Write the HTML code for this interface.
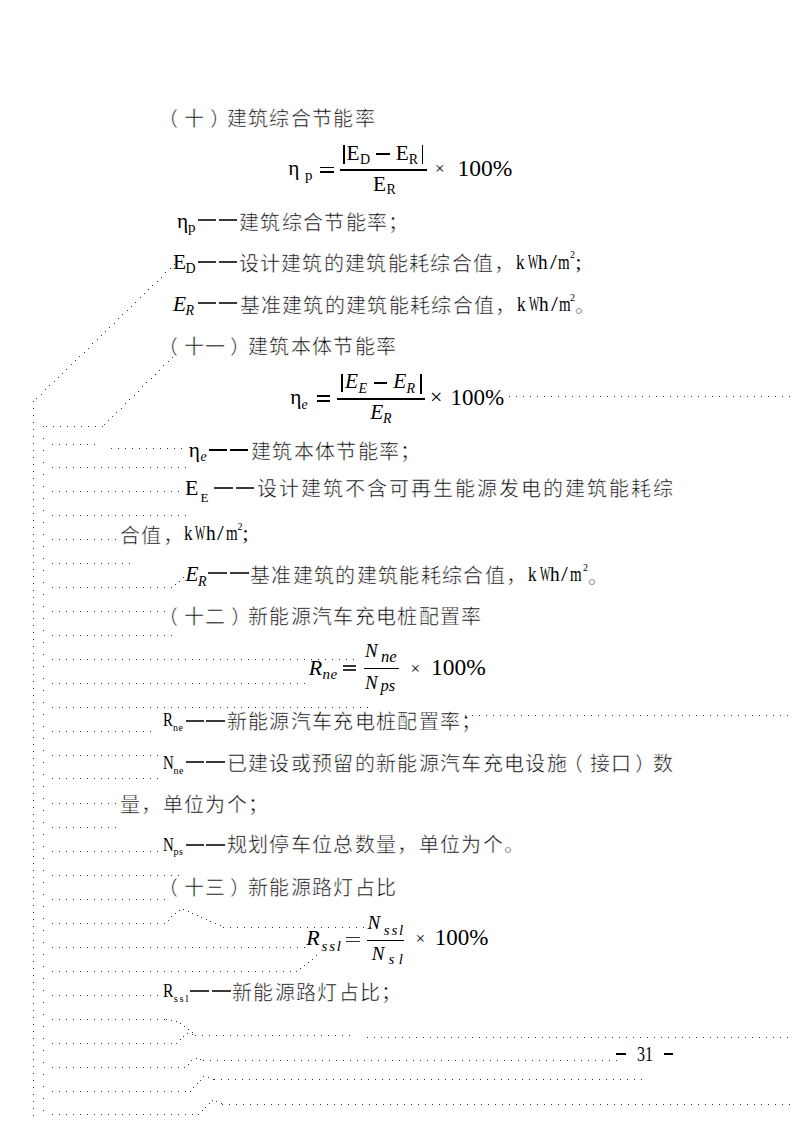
<!DOCTYPE html>
<html lang="zh-CN"><head><meta charset="utf-8"><style>
html,body{margin:0;padding:0;background:#fff;}
body{width:794px;height:1123px;position:relative;overflow:hidden;font-family:'Liberation Serif',serif;color:#000;}
.c,.t{position:absolute;white-space:nowrap;line-height:30px;}
.c{font-size:20px;-webkit-text-stroke:0.5px #fff;}
.r{position:absolute;}
svg{position:absolute;left:0;top:0;}
</style></head><body>
<svg width="794" height="1123" viewBox="0 0 794 1123"><path fill="#333" shape-rendering="crispEdges" d="M33 401h1v1h-1zM33 408h1v1h-1zM33 415h1v1h-1zM33 422h1v1h-1zM33 429h1v1h-1zM33 436h1v1h-1zM33 443h1v1h-1zM33 450h1v1h-1zM33 457h1v1h-1zM33 464h1v1h-1zM33 471h1v1h-1zM33 478h1v1h-1zM33 485h1v1h-1zM33 492h1v1h-1zM33 499h1v1h-1zM33 506h1v1h-1zM33 513h1v1h-1zM33 520h1v1h-1zM33 527h1v1h-1zM33 534h1v1h-1zM33 541h1v1h-1zM33 548h1v1h-1zM33 555h1v1h-1zM33 562h1v1h-1zM33 569h1v1h-1zM33 576h1v1h-1zM33 583h1v1h-1zM33 590h1v1h-1zM33 597h1v1h-1zM33 604h1v1h-1zM33 611h1v1h-1zM33 618h1v1h-1zM33 625h1v1h-1zM33 632h1v1h-1zM33 639h1v1h-1zM33 646h1v1h-1zM33 653h1v1h-1zM33 660h1v1h-1zM33 667h1v1h-1zM33 674h1v1h-1zM33 681h1v1h-1zM33 688h1v1h-1zM33 695h1v1h-1zM33 702h1v1h-1zM33 709h1v1h-1zM33 716h1v1h-1zM33 723h1v1h-1zM33 730h1v1h-1zM33 737h1v1h-1zM33 744h1v1h-1zM33 751h1v1h-1zM33 758h1v1h-1zM33 765h1v1h-1zM33 772h1v1h-1zM33 779h1v1h-1zM33 786h1v1h-1zM33 793h1v1h-1zM33 800h1v1h-1zM33 807h1v1h-1zM33 814h1v1h-1zM33 821h1v1h-1zM33 828h1v1h-1zM33 835h1v1h-1zM33 842h1v1h-1zM33 849h1v1h-1zM33 856h1v1h-1zM33 863h1v1h-1zM33 870h1v1h-1zM33 877h1v1h-1zM33 884h1v1h-1zM33 891h1v1h-1zM33 898h1v1h-1zM33 905h1v1h-1zM33 912h1v1h-1zM33 919h1v1h-1zM33 926h1v1h-1zM33 933h1v1h-1zM33 940h1v1h-1zM33 947h1v1h-1zM33 954h1v1h-1zM33 961h1v1h-1zM33 968h1v1h-1zM33 975h1v1h-1zM33 982h1v1h-1zM33 989h1v1h-1zM33 996h1v1h-1zM33 1003h1v1h-1zM33 1010h1v1h-1zM33 1017h1v1h-1zM33 1024h1v1h-1zM33 1031h1v1h-1zM33 1038h1v1h-1zM33 1045h1v1h-1zM33 1052h1v1h-1zM33 1059h1v1h-1zM33 1066h1v1h-1zM33 1073h1v1h-1zM33 1080h1v1h-1zM33 1087h1v1h-1zM33 1094h1v1h-1zM33 1101h1v1h-1zM33 1108h1v1h-1zM33 1115h1v1h-1zM36 398h1v1h-1zM41 394h1v1h-1zM43 426h1v1h-1zM43 438h1v1h-1zM43 450h1v1h-1zM43 462h1v1h-1zM43 474h1v1h-1zM43 486h1v1h-1zM43 498h1v1h-1zM43 510h1v1h-1zM43 522h1v1h-1zM43 534h1v1h-1zM43 546h1v1h-1zM43 558h1v1h-1zM43 570h1v1h-1zM43 582h1v1h-1zM43 594h1v1h-1zM43 606h1v1h-1zM43 618h1v1h-1zM43 630h1v1h-1zM43 642h1v1h-1zM43 654h1v1h-1zM43 666h1v1h-1zM43 678h1v1h-1zM43 690h1v1h-1zM43 702h1v1h-1zM43 714h1v1h-1zM43 726h1v1h-1zM43 738h1v1h-1zM43 750h1v1h-1zM43 762h1v1h-1zM43 774h1v1h-1zM43 786h1v1h-1zM43 798h1v1h-1zM43 810h1v1h-1zM43 822h1v1h-1zM43 834h1v1h-1zM43 846h1v1h-1zM43 858h1v1h-1zM43 870h1v1h-1zM43 882h1v1h-1zM43 894h1v1h-1zM43 906h1v1h-1zM43 918h1v1h-1zM43 930h1v1h-1zM43 942h1v1h-1zM43 954h1v1h-1zM43 966h1v1h-1zM43 978h1v1h-1zM43 990h1v1h-1zM43 1002h1v1h-1zM43 1014h1v1h-1zM43 1026h1v1h-1zM43 1038h1v1h-1zM43 1050h1v1h-1zM43 1062h1v1h-1zM43 1074h1v1h-1zM43 1086h1v1h-1zM43 1098h1v1h-1zM43 1110h1v1h-1zM45 389h1v1h-1zM46 426h1v1h-1zM49 385h1v1h-1zM52 444h1v1h-1zM52 467h1v1h-1zM52 491h1v1h-1zM52 515h1v1h-1zM52 539h1v1h-1zM52 563h1v1h-1zM52 587h1v1h-1zM52 611h1v1h-1zM52 635h1v1h-1zM52 659h1v1h-1zM52 683h1v1h-1zM52 707h1v1h-1zM52 731h1v1h-1zM52 755h1v1h-1zM52 778h1v1h-1zM52 803h1v1h-1zM52 827h1v1h-1zM52 851h1v1h-1zM52 875h1v1h-1zM52 899h1v1h-1zM52 923h1v1h-1zM52 947h1v1h-1zM52 971h1v1h-1zM52 995h1v1h-1zM52 1019h1v1h-1zM52 1043h1v1h-1zM52 1067h1v1h-1zM52 1091h1v1h-1zM52 1114h1v1h-1zM53 426h1v1h-1zM54 381h1v1h-1zM58 377h1v1h-1zM59 444h1v1h-1zM59 467h1v1h-1zM59 491h1v1h-1zM59 515h1v1h-1zM59 539h1v1h-1zM59 563h1v1h-1zM59 587h1v1h-1zM59 611h1v1h-1zM59 635h1v1h-1zM59 659h1v1h-1zM59 683h1v1h-1zM59 707h1v1h-1zM59 731h1v1h-1zM59 755h1v1h-1zM59 778h1v1h-1zM59 803h1v1h-1zM59 827h1v1h-1zM59 851h1v1h-1zM59 875h1v1h-1zM59 899h1v1h-1zM59 923h1v1h-1zM59 947h1v1h-1zM59 971h1v1h-1zM59 995h1v1h-1zM59 1019h1v1h-1zM59 1043h1v1h-1zM59 1067h1v1h-1zM59 1091h1v1h-1zM59 1114h1v1h-1zM60 426h1v1h-1zM62 373h1v1h-1zM66 369h1v1h-1zM66 444h1v1h-1zM66 467h1v1h-1zM66 491h1v1h-1zM66 515h1v1h-1zM66 539h1v1h-1zM66 563h1v1h-1zM66 587h1v1h-1zM66 611h1v1h-1zM66 635h1v1h-1zM66 659h1v1h-1zM66 683h1v1h-1zM66 707h1v1h-1zM66 731h1v1h-1zM66 755h1v1h-1zM66 778h1v1h-1zM66 803h1v1h-1zM66 827h1v1h-1zM66 851h1v1h-1zM66 875h1v1h-1zM66 899h1v1h-1zM66 923h1v1h-1zM66 947h1v1h-1zM66 971h1v1h-1zM66 995h1v1h-1zM66 1019h1v1h-1zM66 1043h1v1h-1zM66 1067h1v1h-1zM66 1091h1v1h-1zM66 1114h1v1h-1zM67 426h1v1h-1zM71 364h1v1h-1zM73 444h1v1h-1zM73 467h1v1h-1zM73 491h1v1h-1zM73 515h1v1h-1zM73 539h1v1h-1zM73 563h1v1h-1zM73 587h1v1h-1zM73 611h1v1h-1zM73 635h1v1h-1zM73 659h1v1h-1zM73 683h1v1h-1zM73 707h1v1h-1zM73 731h1v1h-1zM73 755h1v1h-1zM73 778h1v1h-1zM73 803h1v1h-1zM73 827h1v1h-1zM73 851h1v1h-1zM73 875h1v1h-1zM73 899h1v1h-1zM73 923h1v1h-1zM73 947h1v1h-1zM73 971h1v1h-1zM73 995h1v1h-1zM73 1019h1v1h-1zM73 1043h1v1h-1zM73 1067h1v1h-1zM73 1091h1v1h-1zM73 1114h1v1h-1zM74 426h1v1h-1zM75 360h1v1h-1zM79 356h1v1h-1zM80 444h1v1h-1zM80 467h1v1h-1zM80 491h1v1h-1zM80 515h1v1h-1zM80 539h1v1h-1zM80 563h1v1h-1zM80 587h1v1h-1zM80 611h1v1h-1zM80 635h1v1h-1zM80 659h1v1h-1zM80 683h1v1h-1zM80 707h1v1h-1zM80 731h1v1h-1zM80 755h1v1h-1zM80 778h1v1h-1zM80 803h1v1h-1zM80 827h1v1h-1zM80 851h1v1h-1zM80 875h1v1h-1zM80 899h1v1h-1zM80 923h1v1h-1zM80 947h1v1h-1zM80 971h1v1h-1zM80 995h1v1h-1zM80 1019h1v1h-1zM80 1043h1v1h-1zM80 1067h1v1h-1zM80 1091h1v1h-1zM80 1114h1v1h-1zM81 426h1v1h-1zM84 352h1v1h-1zM87 444h1v1h-1zM87 467h1v1h-1zM87 491h1v1h-1zM87 515h1v1h-1zM87 539h1v1h-1zM87 563h1v1h-1zM87 587h1v1h-1zM87 611h1v1h-1zM87 635h1v1h-1zM87 659h1v1h-1zM87 683h1v1h-1zM87 707h1v1h-1zM87 731h1v1h-1zM87 755h1v1h-1zM87 778h1v1h-1zM87 803h1v1h-1zM87 827h1v1h-1zM87 851h1v1h-1zM87 875h1v1h-1zM87 899h1v1h-1zM87 923h1v1h-1zM87 947h1v1h-1zM87 971h1v1h-1zM87 995h1v1h-1zM87 1019h1v1h-1zM87 1043h1v1h-1zM87 1067h1v1h-1zM87 1091h1v1h-1zM87 1114h1v1h-1zM88 348h1v1h-1zM88 426h1v1h-1zM92 343h1v1h-1zM94 444h1v1h-1zM94 467h1v1h-1zM94 491h1v1h-1zM94 515h1v1h-1zM94 539h1v1h-1zM94 563h1v1h-1zM94 587h1v1h-1zM94 611h1v1h-1zM94 635h1v1h-1zM94 659h1v1h-1zM94 683h1v1h-1zM94 707h1v1h-1zM94 731h1v1h-1zM94 755h1v1h-1zM94 778h1v1h-1zM94 803h1v1h-1zM94 827h1v1h-1zM94 851h1v1h-1zM94 875h1v1h-1zM94 899h1v1h-1zM94 923h1v1h-1zM94 947h1v1h-1zM94 971h1v1h-1zM94 995h1v1h-1zM94 1019h1v1h-1zM94 1043h1v1h-1zM94 1067h1v1h-1zM94 1091h1v1h-1zM94 1114h1v1h-1zM95 426h1v1h-1zM97 339h1v1h-1zM101 335h1v1h-1zM101 467h1v1h-1zM101 491h1v1h-1zM101 515h1v1h-1zM101 539h1v1h-1zM101 563h1v1h-1zM101 587h1v1h-1zM101 611h1v1h-1zM101 635h1v1h-1zM101 659h1v1h-1zM101 683h1v1h-1zM101 707h1v1h-1zM101 731h1v1h-1zM101 755h1v1h-1zM101 778h1v1h-1zM101 803h1v1h-1zM101 827h1v1h-1zM101 851h1v1h-1zM101 875h1v1h-1zM101 899h1v1h-1zM101 923h1v1h-1zM101 947h1v1h-1zM101 971h1v1h-1zM101 995h1v1h-1zM101 1019h1v1h-1zM101 1043h1v1h-1zM101 1067h1v1h-1zM101 1091h1v1h-1zM101 1114h1v1h-1zM102 426h1v1h-1zM104 424h1v1h-1zM105 331h1v1h-1zM108 420h1v1h-1zM108 467h1v1h-1zM108 491h1v1h-1zM108 515h1v1h-1zM108 539h1v1h-1zM108 563h1v1h-1zM108 587h1v1h-1zM108 611h1v1h-1zM108 635h1v1h-1zM108 659h1v1h-1zM108 683h1v1h-1zM108 707h1v1h-1zM108 731h1v1h-1zM108 755h1v1h-1zM108 778h1v1h-1zM108 803h1v1h-1zM108 827h1v1h-1zM108 851h1v1h-1zM108 875h1v1h-1zM108 899h1v1h-1zM108 923h1v1h-1zM108 947h1v1h-1zM108 971h1v1h-1zM108 995h1v1h-1zM108 1019h1v1h-1zM108 1043h1v1h-1zM108 1067h1v1h-1zM108 1091h1v1h-1zM108 1114h1v1h-1zM109 327h1v1h-1zM111 448h1v1h-1zM112 416h1v1h-1zM114 323h1v1h-1zM115 467h1v1h-1zM115 491h1v1h-1zM115 515h1v1h-1zM115 539h1v1h-1zM115 563h1v1h-1zM115 587h1v1h-1zM115 611h1v1h-1zM115 635h1v1h-1zM115 659h1v1h-1zM115 683h1v1h-1zM115 707h1v1h-1zM115 731h1v1h-1zM115 755h1v1h-1zM115 778h1v1h-1zM115 803h1v1h-1zM115 827h1v1h-1zM115 851h1v1h-1zM115 875h1v1h-1zM115 899h1v1h-1zM115 923h1v1h-1zM115 947h1v1h-1zM115 971h1v1h-1zM115 995h1v1h-1zM115 1019h1v1h-1zM115 1043h1v1h-1zM115 1067h1v1h-1zM115 1091h1v1h-1zM115 1114h1v1h-1zM116 412h1v1h-1zM118 318h1v1h-1zM118 448h1v1h-1zM121 408h1v1h-1zM122 314h1v1h-1zM122 467h1v1h-1zM122 491h1v1h-1zM122 515h1v1h-1zM122 563h1v1h-1zM122 587h1v1h-1zM122 611h1v1h-1zM122 635h1v1h-1zM122 659h1v1h-1zM122 683h1v1h-1zM122 707h1v1h-1zM122 731h1v1h-1zM122 755h1v1h-1zM122 778h1v1h-1zM122 851h1v1h-1zM122 875h1v1h-1zM122 899h1v1h-1zM122 923h1v1h-1zM122 947h1v1h-1zM122 971h1v1h-1zM122 995h1v1h-1zM122 1019h1v1h-1zM122 1043h1v1h-1zM122 1067h1v1h-1zM122 1091h1v1h-1zM122 1114h1v1h-1zM125 403h1v1h-1zM125 448h1v1h-1zM127 310h1v1h-1zM129 399h1v1h-1zM129 467h1v1h-1zM129 491h1v1h-1zM129 515h1v1h-1zM129 563h1v1h-1zM129 587h1v1h-1zM129 611h1v1h-1zM129 635h1v1h-1zM129 659h1v1h-1zM129 683h1v1h-1zM129 707h1v1h-1zM129 731h1v1h-1zM129 755h1v1h-1zM129 778h1v1h-1zM129 851h1v1h-1zM129 875h1v1h-1zM129 899h1v1h-1zM129 923h1v1h-1zM129 947h1v1h-1zM129 971h1v1h-1zM129 995h1v1h-1zM129 1019h1v1h-1zM129 1043h1v1h-1zM129 1067h1v1h-1zM129 1091h1v1h-1zM129 1114h1v1h-1zM131 306h1v1h-1zM132 448h1v1h-1zM134 395h1v1h-1zM135 302h1v1h-1zM136 467h1v1h-1zM136 491h1v1h-1zM136 515h1v1h-1zM136 587h1v1h-1zM136 611h1v1h-1zM136 635h1v1h-1zM136 659h1v1h-1zM136 683h1v1h-1zM136 707h1v1h-1zM136 731h1v1h-1zM136 755h1v1h-1zM136 778h1v1h-1zM136 851h1v1h-1zM136 875h1v1h-1zM136 899h1v1h-1zM136 923h1v1h-1zM136 947h1v1h-1zM136 971h1v1h-1zM136 995h1v1h-1zM136 1019h1v1h-1zM136 1043h1v1h-1zM136 1067h1v1h-1zM136 1091h1v1h-1zM136 1114h1v1h-1zM138 391h1v1h-1zM139 448h1v1h-1zM140 297h1v1h-1zM142 386h1v1h-1zM143 467h1v1h-1zM143 491h1v1h-1zM143 515h1v1h-1zM143 587h1v1h-1zM143 611h1v1h-1zM143 635h1v1h-1zM143 659h1v1h-1zM143 683h1v1h-1zM143 707h1v1h-1zM143 731h1v1h-1zM143 755h1v1h-1zM143 778h1v1h-1zM143 851h1v1h-1zM143 875h1v1h-1zM143 899h1v1h-1zM143 923h1v1h-1zM143 947h1v1h-1zM143 971h1v1h-1zM143 995h1v1h-1zM143 1019h1v1h-1zM143 1043h1v1h-1zM143 1067h1v1h-1zM143 1091h1v1h-1zM143 1114h1v1h-1zM144 293h1v1h-1zM146 382h1v1h-1zM146 448h1v1h-1zM148 289h1v1h-1zM150 467h1v1h-1zM150 491h1v1h-1zM150 515h1v1h-1zM150 587h1v1h-1zM150 611h1v1h-1zM150 635h1v1h-1zM150 659h1v1h-1zM150 683h1v1h-1zM150 707h1v1h-1zM150 731h1v1h-1zM150 755h1v1h-1zM150 778h1v1h-1zM150 851h1v1h-1zM150 875h1v1h-1zM150 899h1v1h-1zM150 923h1v1h-1zM150 947h1v1h-1zM150 971h1v1h-1zM150 995h1v1h-1zM150 1019h1v1h-1zM150 1043h1v1h-1zM150 1067h1v1h-1zM150 1091h1v1h-1zM150 1114h1v1h-1zM151 378h1v1h-1zM152 285h1v1h-1zM153 448h1v1h-1zM155 374h1v1h-1zM157 281h1v1h-1zM157 467h1v1h-1zM157 491h1v1h-1zM157 515h1v1h-1zM157 587h1v1h-1zM157 611h1v1h-1zM157 635h1v1h-1zM157 659h1v1h-1zM157 683h1v1h-1zM157 707h1v1h-1zM157 755h1v1h-1zM157 778h1v1h-1zM157 851h1v1h-1zM157 875h1v1h-1zM157 899h1v1h-1zM157 923h1v1h-1zM157 947h1v1h-1zM157 971h1v1h-1zM157 995h1v1h-1zM157 1019h1v1h-1zM157 1043h1v1h-1zM157 1067h1v1h-1zM157 1091h1v1h-1zM157 1114h1v1h-1zM159 370h1v1h-1zM160 448h1v1h-1zM161 277h1v1h-1zM163 365h1v1h-1zM164 467h1v1h-1zM164 491h1v1h-1zM164 515h1v1h-1zM164 587h1v1h-1zM164 611h1v1h-1zM164 635h1v1h-1zM164 659h1v1h-1zM164 683h1v1h-1zM164 707h1v1h-1zM164 875h1v1h-1zM164 899h1v1h-1zM164 923h1v1h-1zM164 947h1v1h-1zM164 971h1v1h-1zM164 1019h1v1h-1zM164 1043h1v1h-1zM164 1067h1v1h-1zM164 1091h1v1h-1zM164 1114h1v1h-1zM165 272h1v1h-1zM166 1019h1v1h-1zM167 448h1v1h-1zM168 361h1v1h-1zM168 920h1v1h-1zM170 268h1v1h-1zM171 467h1v1h-1zM171 491h1v1h-1zM171 515h1v1h-1zM171 587h1v1h-1zM171 635h1v1h-1zM171 659h1v1h-1zM171 683h1v1h-1zM171 707h1v1h-1zM171 875h1v1h-1zM171 916h1v1h-1zM171 947h1v1h-1zM171 971h1v1h-1zM171 1020h1v1h-1zM171 1043h1v1h-1zM171 1067h1v1h-1zM171 1091h1v1h-1zM171 1114h1v1h-1zM172 357h1v1h-1zM174 264h1v1h-1zM174 448h1v1h-1zM175 584h1v1h-1zM175 913h1v1h-1zM176 1021h1v1h-1zM176 1043h1v1h-1zM178 467h1v1h-1zM178 491h1v1h-1zM178 515h1v1h-1zM178 659h1v1h-1zM178 683h1v1h-1zM178 707h1v1h-1zM178 875h1v1h-1zM178 947h1v1h-1zM178 971h1v1h-1zM178 1067h1v1h-1zM178 1091h1v1h-1zM178 1114h1v1h-1zM179 581h1v1h-1zM179 910h1v1h-1zM180 1023h1v1h-1zM180 1039h1v1h-1zM181 448h1v1h-1zM183 577h1v1h-1zM183 909h1v1h-1zM183 1036h1v1h-1zM184 1026h1v1h-1zM184 1067h1v1h-1zM185 467h1v1h-1zM185 515h1v1h-1zM185 659h1v1h-1zM185 683h1v1h-1zM185 707h1v1h-1zM185 947h1v1h-1zM185 971h1v1h-1zM185 1091h1v1h-1zM185 1114h1v1h-1zM187 1033h1v1h-1zM188 911h1v1h-1zM188 1029h1v1h-1zM188 1064h1v1h-1zM190 1091h1v1h-1zM191 1060h1v1h-1zM192 659h1v1h-1zM192 683h1v1h-1zM192 707h1v1h-1zM192 913h1v1h-1zM192 947h1v1h-1zM192 971h1v1h-1zM192 1032h1v1h-1zM192 1034h1v1h-1zM192 1114h1v1h-1zM193 1087h1v1h-1zM195 1035h1v1h-1zM196 1058h1v1h-1zM197 915h1v1h-1zM197 1083h1v1h-1zM198 1114h1v1h-1zM199 659h1v1h-1zM199 683h1v1h-1zM199 707h1v1h-1zM199 947h1v1h-1zM199 971h1v1h-1zM200 1059h1v1h-1zM200 1080h1v1h-1zM201 917h1v1h-1zM202 1035h1v1h-1zM202 1110h1v1h-1zM203 1060h1v1h-1zM203 1076h1v1h-1zM205 1107h1v1h-1zM206 659h1v1h-1zM206 683h1v1h-1zM206 707h1v1h-1zM206 919h1v1h-1zM206 947h1v1h-1zM206 971h1v1h-1zM208 1077h1v1h-1zM209 1035h1v1h-1zM209 1103h1v1h-1zM210 921h1v1h-1zM210 1060h1v1h-1zM212 1100h1v1h-1zM213 659h1v1h-1zM213 683h1v1h-1zM213 707h1v1h-1zM213 947h1v1h-1zM213 971h1v1h-1zM213 1079h1v1h-1zM214 1079h1v1h-1zM215 923h1v1h-1zM216 1035h1v1h-1zM216 1101h1v1h-1zM217 1060h1v1h-1zM220 659h1v1h-1zM220 683h1v1h-1zM220 707h1v1h-1zM220 925h1v1h-1zM220 947h1v1h-1zM220 971h1v1h-1zM221 1079h1v1h-1zM221 1103h1v1h-1zM222 1104h1v1h-1zM223 927h1v1h-1zM223 1035h1v1h-1zM224 1060h1v1h-1zM227 659h1v1h-1zM227 683h1v1h-1zM227 707h1v1h-1zM227 947h1v1h-1zM227 971h1v1h-1zM228 1079h1v1h-1zM229 1104h1v1h-1zM230 927h1v1h-1zM230 1035h1v1h-1zM231 1060h1v1h-1zM234 659h1v1h-1zM234 683h1v1h-1zM234 707h1v1h-1zM234 947h1v1h-1zM234 971h1v1h-1zM235 1079h1v1h-1zM236 1104h1v1h-1zM237 927h1v1h-1zM237 1035h1v1h-1zM238 1060h1v1h-1zM241 659h1v1h-1zM241 683h1v1h-1zM241 707h1v1h-1zM241 947h1v1h-1zM241 971h1v1h-1zM242 1079h1v1h-1zM243 1104h1v1h-1zM244 927h1v1h-1zM244 1035h1v1h-1zM245 1060h1v1h-1zM248 659h1v1h-1zM248 683h1v1h-1zM248 707h1v1h-1zM248 947h1v1h-1zM248 971h1v1h-1zM249 1079h1v1h-1zM250 1104h1v1h-1zM251 927h1v1h-1zM251 1035h1v1h-1zM252 1060h1v1h-1zM255 659h1v1h-1zM255 683h1v1h-1zM255 707h1v1h-1zM255 947h1v1h-1zM255 971h1v1h-1zM256 1079h1v1h-1zM257 1104h1v1h-1zM258 927h1v1h-1zM258 1035h1v1h-1zM259 1060h1v1h-1zM262 659h1v1h-1zM262 683h1v1h-1zM262 707h1v1h-1zM262 947h1v1h-1zM262 971h1v1h-1zM263 1079h1v1h-1zM264 1104h1v1h-1zM265 927h1v1h-1zM265 1035h1v1h-1zM266 1060h1v1h-1zM269 659h1v1h-1zM269 683h1v1h-1zM269 707h1v1h-1zM269 947h1v1h-1zM269 971h1v1h-1zM270 1079h1v1h-1zM271 1104h1v1h-1zM272 927h1v1h-1zM272 1035h1v1h-1zM273 1060h1v1h-1zM276 659h1v1h-1zM276 683h1v1h-1zM276 707h1v1h-1zM276 947h1v1h-1zM276 971h1v1h-1zM277 1079h1v1h-1zM278 1104h1v1h-1zM279 927h1v1h-1zM279 1035h1v1h-1zM280 1060h1v1h-1zM283 659h1v1h-1zM283 683h1v1h-1zM283 707h1v1h-1zM283 947h1v1h-1zM283 971h1v1h-1zM284 1079h1v1h-1zM285 1104h1v1h-1zM286 927h1v1h-1zM286 1035h1v1h-1zM287 1060h1v1h-1zM290 659h1v1h-1zM290 683h1v1h-1zM290 707h1v1h-1zM290 947h1v1h-1zM290 971h1v1h-1zM291 1079h1v1h-1zM292 1104h1v1h-1zM293 927h1v1h-1zM293 1035h1v1h-1zM294 1060h1v1h-1zM296 971h1v1h-1zM297 659h1v1h-1zM297 683h1v1h-1zM297 707h1v1h-1zM297 947h1v1h-1zM298 1079h1v1h-1zM299 1104h1v1h-1zM300 927h1v1h-1zM300 968h1v1h-1zM300 1035h1v1h-1zM301 1060h1v1h-1zM304 659h1v1h-1zM304 683h1v1h-1zM304 707h1v1h-1zM304 947h1v1h-1zM304 965h1v1h-1zM305 1079h1v1h-1zM306 1104h1v1h-1zM307 927h1v1h-1zM307 1035h1v1h-1zM308 962h1v1h-1zM308 1060h1v1h-1zM311 659h1v1h-1zM311 707h1v1h-1zM312 959h1v1h-1zM312 1079h1v1h-1zM313 1104h1v1h-1zM314 927h1v1h-1zM314 1035h1v1h-1zM315 1060h1v1h-1zM316 955h1v1h-1zM318 659h1v1h-1zM318 707h1v1h-1zM319 1079h1v1h-1zM320 1104h1v1h-1zM321 927h1v1h-1zM321 1035h1v1h-1zM322 1060h1v1h-1zM325 659h1v1h-1zM325 707h1v1h-1zM326 1079h1v1h-1zM327 1104h1v1h-1zM328 927h1v1h-1zM328 1035h1v1h-1zM329 1060h1v1h-1zM332 659h1v1h-1zM332 707h1v1h-1zM333 1079h1v1h-1zM334 1104h1v1h-1zM335 927h1v1h-1zM335 1035h1v1h-1zM336 1060h1v1h-1zM339 659h1v1h-1zM339 707h1v1h-1zM340 1079h1v1h-1zM341 1104h1v1h-1zM342 927h1v1h-1zM342 1035h1v1h-1zM343 1060h1v1h-1zM346 659h1v1h-1zM346 707h1v1h-1zM347 1079h1v1h-1zM348 1104h1v1h-1zM349 927h1v1h-1zM349 1035h1v1h-1zM350 1060h1v1h-1zM353 659h1v1h-1zM353 707h1v1h-1zM354 1079h1v1h-1zM355 1104h1v1h-1zM356 927h1v1h-1zM357 1060h1v1h-1zM360 707h1v1h-1zM361 1079h1v1h-1zM362 1104h1v1h-1zM363 927h1v1h-1zM364 1060h1v1h-1zM367 707h1v1h-1zM367 1037h1v1h-1zM368 1079h1v1h-1zM369 1104h1v1h-1zM370 927h1v1h-1zM371 1060h1v1h-1zM374 1037h1v1h-1zM375 1079h1v1h-1zM376 1104h1v1h-1zM378 1060h1v1h-1zM381 1037h1v1h-1zM382 1079h1v1h-1zM383 1104h1v1h-1zM385 1060h1v1h-1zM388 1037h1v1h-1zM389 1079h1v1h-1zM390 1104h1v1h-1zM392 1060h1v1h-1zM395 1037h1v1h-1zM396 1079h1v1h-1zM397 1104h1v1h-1zM399 1060h1v1h-1zM402 1037h1v1h-1zM403 1079h1v1h-1zM404 1104h1v1h-1zM406 1060h1v1h-1zM409 1037h1v1h-1zM410 1079h1v1h-1zM411 1104h1v1h-1zM413 1060h1v1h-1zM416 1037h1v1h-1zM417 1079h1v1h-1zM418 1104h1v1h-1zM420 1060h1v1h-1zM423 1037h1v1h-1zM424 1079h1v1h-1zM425 1104h1v1h-1zM427 1060h1v1h-1zM430 1037h1v1h-1zM431 1079h1v1h-1zM432 1104h1v1h-1zM434 1060h1v1h-1zM437 1037h1v1h-1zM438 1079h1v1h-1zM439 1104h1v1h-1zM441 1060h1v1h-1zM444 1037h1v1h-1zM445 1079h1v1h-1zM446 1104h1v1h-1zM448 1060h1v1h-1zM451 1037h1v1h-1zM452 1079h1v1h-1zM453 1104h1v1h-1zM455 1060h1v1h-1zM458 1037h1v1h-1zM459 1079h1v1h-1zM460 1104h1v1h-1zM462 1060h1v1h-1zM465 715h1v1h-1zM465 1037h1v1h-1zM466 1079h1v1h-1zM467 1104h1v1h-1zM469 1060h1v1h-1zM472 715h1v1h-1zM472 1037h1v1h-1zM473 1079h1v1h-1zM474 1104h1v1h-1zM476 1060h1v1h-1zM479 715h1v1h-1zM479 1037h1v1h-1zM480 1079h1v1h-1zM481 1104h1v1h-1zM483 1060h1v1h-1zM486 715h1v1h-1zM486 1037h1v1h-1zM487 1079h1v1h-1zM488 1104h1v1h-1zM490 1060h1v1h-1zM493 715h1v1h-1zM493 1037h1v1h-1zM494 1079h1v1h-1zM495 1104h1v1h-1zM497 1060h1v1h-1zM500 715h1v1h-1zM500 1037h1v1h-1zM501 1079h1v1h-1zM502 1104h1v1h-1zM504 1060h1v1h-1zM507 715h1v1h-1zM507 1037h1v1h-1zM508 1079h1v1h-1zM509 396h1v1h-1zM509 1104h1v1h-1zM511 1060h1v1h-1zM514 715h1v1h-1zM514 1037h1v1h-1zM515 1079h1v1h-1zM516 396h1v1h-1zM516 1104h1v1h-1zM518 1060h1v1h-1zM521 715h1v1h-1zM521 1037h1v1h-1zM522 1079h1v1h-1zM523 396h1v1h-1zM523 1104h1v1h-1zM525 1060h1v1h-1zM528 715h1v1h-1zM528 1037h1v1h-1zM529 1079h1v1h-1zM530 396h1v1h-1zM530 1104h1v1h-1zM532 1060h1v1h-1zM535 715h1v1h-1zM535 1037h1v1h-1zM536 1079h1v1h-1zM537 396h1v1h-1zM537 1104h1v1h-1zM539 1060h1v1h-1zM542 715h1v1h-1zM542 1037h1v1h-1zM543 1079h1v1h-1zM544 396h1v1h-1zM544 1104h1v1h-1zM546 1060h1v1h-1zM549 715h1v1h-1zM549 1037h1v1h-1zM550 1079h1v1h-1zM551 396h1v1h-1zM551 1104h1v1h-1zM553 1060h1v1h-1zM556 715h1v1h-1zM556 1037h1v1h-1zM557 1079h1v1h-1zM558 396h1v1h-1zM558 1104h1v1h-1zM560 1060h1v1h-1zM563 715h1v1h-1zM563 1037h1v1h-1zM564 1079h1v1h-1zM565 396h1v1h-1zM565 1104h1v1h-1zM567 1060h1v1h-1zM570 715h1v1h-1zM570 1037h1v1h-1zM571 1079h1v1h-1zM572 396h1v1h-1zM572 1104h1v1h-1zM574 1060h1v1h-1zM577 715h1v1h-1zM577 1037h1v1h-1zM578 1079h1v1h-1zM579 396h1v1h-1zM579 1104h1v1h-1zM581 1060h1v1h-1zM584 715h1v1h-1zM584 1037h1v1h-1zM585 1079h1v1h-1zM586 396h1v1h-1zM586 1104h1v1h-1zM588 1060h1v1h-1zM591 715h1v1h-1zM591 1037h1v1h-1zM592 1079h1v1h-1zM593 396h1v1h-1zM593 1104h1v1h-1zM595 1060h1v1h-1zM598 715h1v1h-1zM598 1037h1v1h-1zM599 1079h1v1h-1zM600 396h1v1h-1zM600 1104h1v1h-1zM602 1060h1v1h-1zM605 715h1v1h-1zM605 1037h1v1h-1zM606 1079h1v1h-1zM607 396h1v1h-1zM607 1104h1v1h-1zM609 1060h1v1h-1zM612 715h1v1h-1zM612 1037h1v1h-1zM613 1079h1v1h-1zM614 396h1v1h-1zM614 1104h1v1h-1zM616 1060h1v1h-1zM619 715h1v1h-1zM619 1037h1v1h-1zM620 1079h1v1h-1zM621 396h1v1h-1zM621 1104h1v1h-1zM626 715h1v1h-1zM626 1037h1v1h-1zM627 1079h1v1h-1zM628 396h1v1h-1zM628 1104h1v1h-1zM633 715h1v1h-1zM633 1037h1v1h-1zM634 1079h1v1h-1zM635 396h1v1h-1zM635 1104h1v1h-1zM640 715h1v1h-1zM640 1037h1v1h-1zM641 1079h1v1h-1zM642 396h1v1h-1zM642 1104h1v1h-1zM647 715h1v1h-1zM647 1037h1v1h-1zM649 396h1v1h-1zM649 1104h1v1h-1zM654 715h1v1h-1zM654 1037h1v1h-1zM656 396h1v1h-1zM656 1104h1v1h-1zM661 715h1v1h-1zM661 1037h1v1h-1zM663 396h1v1h-1zM663 1104h1v1h-1zM668 715h1v1h-1zM668 1037h1v1h-1zM670 396h1v1h-1zM670 1104h1v1h-1zM675 715h1v1h-1zM675 1037h1v1h-1zM677 396h1v1h-1zM677 1104h1v1h-1zM682 715h1v1h-1zM682 1037h1v1h-1zM684 396h1v1h-1zM684 1104h1v1h-1zM689 715h1v1h-1zM689 1037h1v1h-1zM691 396h1v1h-1zM691 1104h1v1h-1zM696 715h1v1h-1zM696 1037h1v1h-1zM698 396h1v1h-1zM698 1104h1v1h-1zM703 715h1v1h-1zM703 1037h1v1h-1zM705 396h1v1h-1zM705 1104h1v1h-1zM710 715h1v1h-1zM710 1037h1v1h-1zM712 396h1v1h-1zM712 1104h1v1h-1zM717 715h1v1h-1zM717 1037h1v1h-1zM719 396h1v1h-1zM719 1104h1v1h-1zM724 715h1v1h-1zM724 1037h1v1h-1zM726 396h1v1h-1zM726 1104h1v1h-1zM731 715h1v1h-1zM731 1037h1v1h-1zM733 396h1v1h-1zM733 1104h1v1h-1zM738 715h1v1h-1zM738 1037h1v1h-1zM740 396h1v1h-1zM740 1104h1v1h-1zM745 715h1v1h-1zM745 1037h1v1h-1zM747 396h1v1h-1zM747 1104h1v1h-1zM752 715h1v1h-1zM752 1037h1v1h-1zM754 396h1v1h-1zM754 1104h1v1h-1zM759 715h1v1h-1zM759 1037h1v1h-1zM761 396h1v1h-1zM761 1104h1v1h-1zM766 715h1v1h-1zM766 1037h1v1h-1zM768 396h1v1h-1zM768 1104h1v1h-1zM773 715h1v1h-1zM773 1037h1v1h-1zM775 396h1v1h-1zM775 1104h1v1h-1zM780 715h1v1h-1zM780 1037h1v1h-1zM782 396h1v1h-1zM782 1104h1v1h-1zM787 715h1v1h-1zM787 1037h1v1h-1zM789 396h1v1h-1zM789 1104h1v1h-1zM794 715h1v1h-1z"/></svg>
<div class="c" style="left:158.3px;top:104.3px;letter-spacing:1.333px">（</div>
<div class="c" style="left:184.0px;top:104.3px;letter-spacing:1.333px">十</div>
<div class="c" style="left:210.0px;top:104.3px;letter-spacing:1.333px">）</div>
<div class="c" style="left:226.7px;top:104.3px;letter-spacing:1.333px">建筑综合节能率</div>
<div class="t" style="left:288.3px;top:152.6px;font-size:21.33px;">η</div>
<div class="t" style="left:305.0px;top:160.4px;font-size:15.00px;">p</div>
<div class="r" style="left:320.0px;top:166.7px;width:14.0px;height:1.8px;background:#000"></div>
<div class="r" style="left:320.0px;top:170.8px;width:14.0px;height:1.8px;background:#000"></div>
<div class="r" style="left:340.2px;top:169.4px;width:86.5px;height:1.8px;background:#000"></div>
<div class="r" style="left:343.3px;top:145.2px;width:1.9px;height:18.4px;background:#000"></div>
<div class="t" style="left:346.5px;top:138.3px;font-size:21.33px;">E</div>
<div class="t" style="left:360.0px;top:144.5px;font-size:14.00px;">D</div>
<div class="r" style="left:376.0px;top:153.0px;width:14.0px;height:2.0px;background:#000"></div>
<div class="t" style="left:395.8px;top:138.3px;font-size:21.33px;">E</div>
<div class="t" style="left:408.7px;top:144.5px;font-size:14.00px;">R</div>
<div class="r" style="left:421.5px;top:145.2px;width:1.9px;height:18.6px;background:#000"></div>
<div class="t" style="left:373.0px;top:168.5px;font-size:21.33px;">E</div>
<div class="t" style="left:386.5px;top:174.7px;font-size:14.00px;">R</div>
<div class="t" style="left:435.0px;top:154.3px;font-size:17.00px;">×</div>
<div class="t" style="left:457.6px;top:153.3px;font-size:23.50px;">100%</div>
<div class="t" style="left:177.0px;top:205.5px;font-size:21.33px;">η</div>
<div class="t" style="left:188.0px;top:212.4px;font-size:15.00px;">p</div>
<div class="r" style="left:198.0px;top:219.0px;width:18.0px;height:2.0px;background:#3a3a3a"></div>
<div class="r" style="left:219.0px;top:219.0px;width:18.0px;height:2.0px;background:#3a3a3a"></div>
<div class="c" style="left:239.0px;top:207.7px;letter-spacing:1.333px">建筑综合节能率；</div>
<div class="t" style="left:173.0px;top:247.2px;font-size:21.33px;">E</div>
<div class="t" style="left:185.5px;top:254.0px;font-size:14.00px;">D</div>
<div class="r" style="left:198.0px;top:261.0px;width:18.0px;height:2.0px;background:#3a3a3a"></div>
<div class="r" style="left:219.0px;top:261.0px;width:18.0px;height:2.0px;background:#3a3a3a"></div>
<div class="c" style="left:238.5px;top:248.5px;letter-spacing:1.333px">设计建筑的建筑能耗综合值，</div>
<div class="t" style="left:516.2px;top:246.8px;font-size:21.33px;transform-origin:0 22px;transform:scaleX(0.8)">k</div>
<div class="t" style="left:528.0px;top:246.8px;font-size:21.33px;transform-origin:0 22px;transform:scaleX(0.51)">W</div>
<div class="t" style="left:538.2px;top:246.8px;font-size:21.33px;transform-origin:0 22px;transform:scaleX(0.9)">h</div>
<div class="t" style="left:549.8px;top:246.8px;font-size:21.33px;transform-origin:0 22px;transform:scaleX(1.15)">/</div>
<div class="t" style="left:558.2px;top:246.8px;font-size:21.33px;transform-origin:0 22px;transform:scaleX(0.7)">m</div>
<div class="t" style="left:570.0px;top:240.1px;font-size:10.00px;">2</div>
<div class="t" style="left:575.5px;top:246.8px;font-size:21.33px;">;</div>
<div class="t" style="left:173.0px;top:289.4px;font-size:21.33px;font-style:italic;">E</div>
<div class="t" style="left:185.5px;top:296.3px;font-size:14.00px;font-style:italic;">R</div>
<div class="r" style="left:198.0px;top:302.0px;width:18.0px;height:2.0px;background:#3a3a3a"></div>
<div class="r" style="left:219.0px;top:302.0px;width:18.0px;height:2.0px;background:#3a3a3a"></div>
<div class="c" style="left:239.5px;top:291.0px;letter-spacing:1.333px">基准建筑的建筑能耗综合值，</div>
<div class="t" style="left:517.4px;top:288.8px;font-size:21.33px;transform-origin:0 22px;transform:scaleX(0.8)">k</div>
<div class="t" style="left:529.2px;top:288.8px;font-size:21.33px;transform-origin:0 22px;transform:scaleX(0.51)">W</div>
<div class="t" style="left:539.4px;top:288.8px;font-size:21.33px;transform-origin:0 22px;transform:scaleX(0.9)">h</div>
<div class="t" style="left:551.0px;top:288.8px;font-size:21.33px;transform-origin:0 22px;transform:scaleX(1.15)">/</div>
<div class="t" style="left:559.4px;top:288.8px;font-size:21.33px;transform-origin:0 22px;transform:scaleX(0.7)">m</div>
<div class="t" style="left:570.0px;top:283.1px;font-size:10.00px;">2</div>
<div class="c" style="left:575.0px;top:291.0px;letter-spacing:1.333px">。</div>
<div class="c" style="left:158.3px;top:331.8px;letter-spacing:1.333px">（</div>
<div class="c" style="left:184.0px;top:331.8px;letter-spacing:1.333px">十一</div>
<div class="c" style="left:230.4px;top:331.8px;letter-spacing:1.333px">）</div>
<div class="c" style="left:248.0px;top:331.8px;letter-spacing:1.333px">建筑本体节能率</div>
<div class="t" style="left:290.3px;top:382.4px;font-size:21.33px;">η</div>
<div class="t" style="left:301.5px;top:389.9px;font-size:14.00px;font-style:italic;">e</div>
<div class="r" style="left:317.4px;top:395.3px;width:13.1px;height:1.9px;background:#000"></div>
<div class="r" style="left:317.4px;top:399.6px;width:13.1px;height:2.0px;background:#000"></div>
<div class="r" style="left:337.0px;top:397.9px;width:87.6px;height:1.7px;background:#000"></div>
<div class="r" style="left:340.5px;top:374.0px;width:2.0px;height:18.2px;background:#000"></div>
<div class="t" style="left:345.0px;top:366.3px;font-size:21.33px;font-style:italic;">E</div>
<div class="t" style="left:358.6px;top:374.0px;font-size:14.00px;font-style:italic;">E</div>
<div class="r" style="left:374.0px;top:381.5px;width:13.0px;height:2.1px;background:#000"></div>
<div class="t" style="left:393.2px;top:366.3px;font-size:21.33px;font-style:italic;">E</div>
<div class="t" style="left:406.5px;top:374.0px;font-size:14.00px;font-style:italic;">R</div>
<div class="r" style="left:419.5px;top:374.0px;width:2.0px;height:19.6px;background:#000"></div>
<div class="t" style="left:370.2px;top:397.3px;font-size:21.33px;font-style:italic;">E</div>
<div class="t" style="left:383.0px;top:404.3px;font-size:14.00px;font-style:italic;">R</div>
<div class="t" style="left:430.0px;top:382.1px;font-size:22.00px;">×</div>
<div class="t" style="left:450.5px;top:382.8px;font-size:23.00px;">100%</div>
<div class="t" style="left:188.7px;top:434.8px;font-size:21.33px;">η</div>
<div class="t" style="left:200.6px;top:441.8px;font-size:14.00px;font-style:italic;">e</div>
<div class="r" style="left:209.1px;top:448.5px;width:18.2px;height:2.8px;background:#000"></div>
<div class="r" style="left:230.0px;top:448.5px;width:18.2px;height:2.8px;background:#000"></div>
<div class="c" style="left:251.0px;top:437.0px;letter-spacing:1.333px">建筑本体节能率；</div>
<div class="t" style="left:185.0px;top:473.4px;font-size:22.00px;">E</div>
<div class="t" style="left:200.5px;top:483.1px;font-size:13.00px;">E</div>
<div class="r" style="left:214.0px;top:487.0px;width:19.0px;height:1.8px;background:#3a3a3a"></div>
<div class="r" style="left:236.0px;top:487.0px;width:18.0px;height:1.8px;background:#3a3a3a"></div>
<div class="c" style="left:257.0px;top:474.3px;letter-spacing:2.000px">设计建筑不含可再生能源发电的建筑能耗综</div>
<div class="c" style="left:120.0px;top:520.6px;letter-spacing:1.333px">合值，</div>
<div class="t" style="left:183.6px;top:518.3px;font-size:21.33px;transform-origin:0 22px;transform:scaleX(0.8)">k</div>
<div class="t" style="left:195.4px;top:518.3px;font-size:21.33px;transform-origin:0 22px;transform:scaleX(0.51)">W</div>
<div class="t" style="left:205.6px;top:518.3px;font-size:21.33px;transform-origin:0 22px;transform:scaleX(0.9)">h</div>
<div class="t" style="left:217.2px;top:518.3px;font-size:21.33px;transform-origin:0 22px;transform:scaleX(1.15)">/</div>
<div class="t" style="left:225.6px;top:518.3px;font-size:21.33px;transform-origin:0 22px;transform:scaleX(0.7)">m</div>
<div class="t" style="left:237.5px;top:511.6px;font-size:10.00px;">2</div>
<div class="t" style="left:242.5px;top:518.3px;font-size:21.33px;">;</div>
<div class="t" style="left:185.6px;top:558.8px;font-size:21.33px;font-style:italic;">E</div>
<div class="t" style="left:198.0px;top:567.3px;font-size:14.00px;font-style:italic;">R</div>
<div class="r" style="left:208.0px;top:572.0px;width:19.0px;height:2.0px;background:#3a3a3a"></div>
<div class="r" style="left:230.0px;top:572.0px;width:19.0px;height:2.0px;background:#3a3a3a"></div>
<div class="c" style="left:250.0px;top:560.5px;letter-spacing:1.333px">基准建筑的建筑能耗综合值，</div>
<div class="t" style="left:527.7px;top:558.8px;font-size:21.33px;transform-origin:0 22px;transform:scaleX(0.8)">k</div>
<div class="t" style="left:539.5px;top:558.8px;font-size:21.33px;transform-origin:0 22px;transform:scaleX(0.51)">W</div>
<div class="t" style="left:549.7px;top:558.8px;font-size:21.33px;transform-origin:0 22px;transform:scaleX(0.9)">h</div>
<div class="t" style="left:561.3px;top:558.8px;font-size:21.33px;transform-origin:0 22px;transform:scaleX(1.15)">/</div>
<div class="t" style="left:569.7px;top:558.8px;font-size:21.33px;transform-origin:0 22px;transform:scaleX(0.7)">m</div>
<div class="t" style="left:583.0px;top:552.6px;font-size:10.00px;">2</div>
<div class="c" style="left:588.0px;top:561.5px;letter-spacing:1.333px">。</div>
<div class="c" style="left:157.6px;top:602.4px;letter-spacing:1.333px">（</div>
<div class="c" style="left:184.0px;top:602.4px;letter-spacing:1.333px">十二</div>
<div class="c" style="left:230.8px;top:602.4px;letter-spacing:1.333px">）</div>
<div class="c" style="left:248.0px;top:602.4px;letter-spacing:1.333px">新能源汽车充电桩配置率</div>
<div class="t" style="left:308.8px;top:652.9px;font-size:22.00px;font-style:italic;">R</div>
<div class="t" style="left:322.4px;top:659.1px;font-size:15.00px;font-style:italic;letter-spacing:0.5px">ne</div>
<div class="r" style="left:343.0px;top:665.0px;width:13.0px;height:1.5px;background:#333"></div>
<div class="r" style="left:343.0px;top:669.0px;width:13.0px;height:1.5px;background:#333"></div>
<div class="r" style="left:364.0px;top:667.8px;width:34.7px;height:1.4px;background:#000"></div>
<div class="t" style="left:365.0px;top:636.4px;font-size:19.00px;font-style:italic;">N</div>
<div class="t" style="left:381.0px;top:641.6px;font-size:16.50px;font-style:italic;">ne</div>
<div class="t" style="left:365.0px;top:667.8px;font-size:19.00px;font-style:italic;">N</div>
<div class="t" style="left:380.6px;top:670.6px;font-size:16.50px;font-style:italic;">ps</div>
<div class="t" style="left:409.5px;top:653.8px;font-size:17.00px;font-style:italic;">×</div>
<div class="t" style="left:431.0px;top:652.4px;font-size:23.50px;">100%</div>
<div class="t" style="left:162.5px;top:705.1px;font-size:19.00px;transform-origin:0 0;transform:scaleX(0.78)">R</div>
<div class="t" style="left:173.0px;top:712.8px;font-size:10.00px;letter-spacing:0.6px">ne</div>
<div class="r" style="left:186.0px;top:720.0px;width:18.0px;height:2.0px;background:#3a3a3a"></div>
<div class="r" style="left:206.0px;top:720.0px;width:19.0px;height:2.0px;background:#3a3a3a"></div>
<div class="c" style="left:226.7px;top:707.1px;letter-spacing:1.333px">新能源汽车充电桩配置率；</div>
<div class="t" style="left:162.5px;top:748.0px;font-size:19.00px;transform-origin:0 0;transform:scaleX(0.78)">N</div>
<div class="t" style="left:173.5px;top:755.6px;font-size:10.00px;letter-spacing:0.6px">ne</div>
<div class="r" style="left:186.0px;top:761.0px;width:18.0px;height:2.0px;background:#3a3a3a"></div>
<div class="r" style="left:206.0px;top:761.0px;width:19.0px;height:2.0px;background:#3a3a3a"></div>
<div class="c" style="left:226.7px;top:749.0px;letter-spacing:1.333px">已建设或预留的新能源汽车充电设施</div>
<div class="c" style="left:563.3px;top:749.0px;letter-spacing:1.333px">（</div>
<div class="c" style="left:590.0px;top:749.0px;letter-spacing:1.333px">接口</div>
<div class="c" style="left:635.0px;top:749.0px;letter-spacing:1.333px">）</div>
<div class="c" style="left:653.3px;top:749.0px;letter-spacing:1.333px">数</div>
<div class="c" style="left:120.0px;top:790.0px;letter-spacing:1.333px">量，单位为个；</div>
<div class="t" style="left:162.5px;top:829.6px;font-size:19.00px;transform-origin:0 0;transform:scaleX(0.78)">N</div>
<div class="t" style="left:173.5px;top:837.1px;font-size:10.00px;letter-spacing:0.6px">ps</div>
<div class="r" style="left:186.0px;top:844.0px;width:18.0px;height:2.0px;background:#3a3a3a"></div>
<div class="r" style="left:206.0px;top:844.0px;width:19.0px;height:2.0px;background:#3a3a3a"></div>
<div class="c" style="left:226.7px;top:830.2px;letter-spacing:1.333px">规划停车位总数量，单位为个。</div>
<div class="c" style="left:157.7px;top:873.1px;letter-spacing:1.333px">（</div>
<div class="c" style="left:184.0px;top:873.1px;letter-spacing:1.333px">十三</div>
<div class="c" style="left:230.3px;top:873.1px;letter-spacing:1.333px">）</div>
<div class="c" style="left:248.0px;top:873.1px;letter-spacing:1.333px">新能源路灯占比</div>
<div class="t" style="left:306.3px;top:922.9px;font-size:22.00px;font-style:italic;">R</div>
<div class="t" style="left:321.5px;top:931.2px;font-size:15.00px;font-style:italic;letter-spacing:1.8px">ssl</div>
<div class="r" style="left:346.0px;top:936.5px;width:14.0px;height:1.5px;background:#333"></div>
<div class="r" style="left:346.0px;top:940.5px;width:14.0px;height:1.5px;background:#333"></div>
<div class="r" style="left:367.0px;top:939.5px;width:37.0px;height:1.5px;background:#000"></div>
<div class="t" style="left:367.5px;top:907.6px;font-size:19.00px;font-style:italic;">N</div>
<div class="t" style="left:383.8px;top:914.5px;font-size:15.00px;font-style:italic;letter-spacing:1.8px">ssl</div>
<div class="t" style="left:371.8px;top:939.0px;font-size:19.00px;font-style:italic;">N</div>
<div class="t" style="left:388.5px;top:943.9px;font-size:15.00px;font-style:italic;letter-spacing:4.5px">sl</div>
<div class="t" style="left:414.5px;top:923.8px;font-size:17.00px;font-style:italic;">×</div>
<div class="t" style="left:434.8px;top:922.5px;font-size:23.00px;">100%</div>
<div class="t" style="left:162.5px;top:975.9px;font-size:19.50px;transform-origin:0 0;transform:scaleX(0.8)">R</div>
<div class="t" style="left:173.7px;top:983.5px;font-size:10.50px;letter-spacing:1.8px">ssl</div>
<div class="r" style="left:190.0px;top:990.0px;width:19.0px;height:2.0px;background:#3a3a3a"></div>
<div class="r" style="left:212.0px;top:990.0px;width:19.0px;height:2.0px;background:#3a3a3a"></div>
<div class="c" style="left:232.0px;top:978.2px;letter-spacing:1.333px">新能源路灯占比；</div>
<div class="r" style="left:616.0px;top:1052.5px;width:10.0px;height:2.0px;background:#000"></div>
<div class="t" style="left:636.5px;top:1038.8px;font-size:20.50px;transform-origin:0 0;transform:scaleX(0.78)">31</div>
<div class="r" style="left:664.0px;top:1052.5px;width:9.0px;height:2.0px;background:#000"></div>
</body></html>
